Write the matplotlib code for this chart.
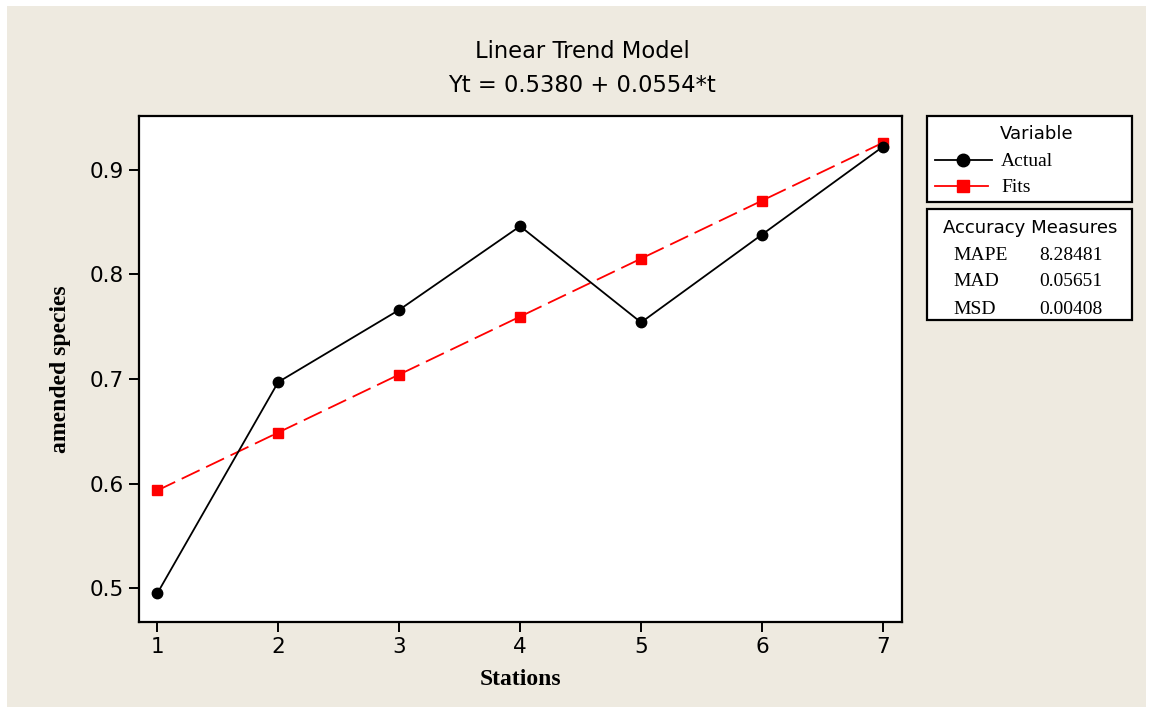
import matplotlib
matplotlib.use("Agg")
import matplotlib.pyplot as plt
from matplotlib.patches import Rectangle
from matplotlib.lines import Line2D

# Data
stations = [1, 2, 3, 4, 5, 6, 7]
actual = [0.495, 0.697, 0.766, 0.846, 0.754, 0.838, 0.922]
intercept = 0.5380
slope = 0.0554
fits = [intercept + slope * t for t in stations]
measure_names = ["MAPE", "MAD", "MSD"]
measure_values = ["8.28481", "0.05651", "0.00408"]
yticks = [0.5, 0.6, 0.7, 0.8, 0.9]

W, H = 1149, 712
BG = "#EEEAE0"
SANS = ["DejaVu Sans"]
SERIF = ["Liberation Serif"]

fig = plt.figure(figsize=(W / 100, H / 100), dpi=100)
fig.patch.set_facecolor("white")

def fx(px):
    return px / W

def fy(py):
    return 1 - py / H

# beige panel
fig.patches.append(Rectangle((fx(7), fy(707)), fx(1146) - fx(7), fy(6) - fy(707),
                             transform=fig.transFigure, facecolor=BG,
                             edgecolor="none", zorder=-10))

ax = fig.add_axes([fx(139), fy(621.7), fx(901.7) - fx(139), fy(116) - fy(621.7)])
ax.set_facecolor("white")
ax.plot(stations, actual, color="black", lw=1.3, marker="o", ms=7.5,
        markerfacecolor="black", zorder=3)
ax.plot(stations, fits, color="red", lw=1.3, marker="s", ms=7,
        markerfacecolor="red", dashes=(11, 4), zorder=2)

ax.set_xlim(0.849, 7.155)
ax.set_ylim(0.468, 0.9513)
ax.set_xticks(stations)
ax.set_yticks(yticks)
ax.set_yticklabels([f"{v:.1f}" for v in yticks])
for s in ax.spines.values():
    s.set_linewidth(1.6)
ax.tick_params(direction="out", length=7, width=1.4, labelsize=15.5, pad=4)
for lab in ax.get_xticklabels() + ax.get_yticklabels():
    lab.set_family(SANS)

ax.set_xlabel("Stations", family=SERIF, fontweight="bold", fontsize=17, labelpad=9)
ax.set_ylabel("amended species", family=SERIF, fontweight="bold", fontsize=17, labelpad=13)

fig.text(fx(582), fy(52), "Linear Trend Model", ha="center", va="center",
         family=SANS, fontsize=16.3)
fig.text(fx(582), fy(85), f"Yt = {intercept:.4f} + {slope:.4f}*t", ha="center",
         va="center", family=SANS, fontsize=16.3)

# Variable legend box
fig.patches.append(Rectangle((fx(927), fy(201.7)), fx(1131.7) - fx(927), fy(116) - fy(201.7),
                             transform=fig.transFigure, facecolor="white",
                             edgecolor="black", lw=1.6))
fig.text(fx(1036.5), fy(134), "Variable", ha="center", va="center", family=SANS, fontsize=13)
fig.lines.append(Line2D([fx(935), fx(963), fx(992)], [fy(160)] * 3,
                        transform=fig.transFigure, color="black", lw=1.3, marker="o",
                        ms=9, markevery=[1], markerfacecolor="black"))
fig.lines.append(Line2D([fx(935), fx(963), fx(988)], [fy(186)] * 3,
                        transform=fig.transFigure, color="red", lw=1.3, marker="s",
                        ms=9, markevery=[1], markerfacecolor="red"))
fig.text(fx(1001), fy(161), "Actual", ha="left", va="center", family=SERIF, fontsize=14)
fig.text(fx(1001), fy(187), "Fits", ha="left", va="center", family=SERIF, fontsize=14)

# Accuracy measures box
fig.patches.append(Rectangle((fx(927), fy(320)), fx(1131.7) - fx(927), fy(209.3) - fy(320),
                             transform=fig.transFigure, facecolor="white",
                             edgecolor="black", lw=1.6))
fig.text(fx(1030.5), fy(228), "Accuracy Measures", ha="center", va="center",
         family=SANS, fontsize=13.1)
for i, (name, val) in enumerate(zip(measure_names, measure_values)):
    y = fy(255 + i * 27)
    fig.text(fx(953), y, name, ha="left", va="center", family=SERIF, fontsize=14)
    fig.text(fx(1039), y, val, ha="left", va="center", family=SERIF, fontsize=14)

fig.savefig("out.png", dpi=100, facecolor=fig.get_facecolor())
